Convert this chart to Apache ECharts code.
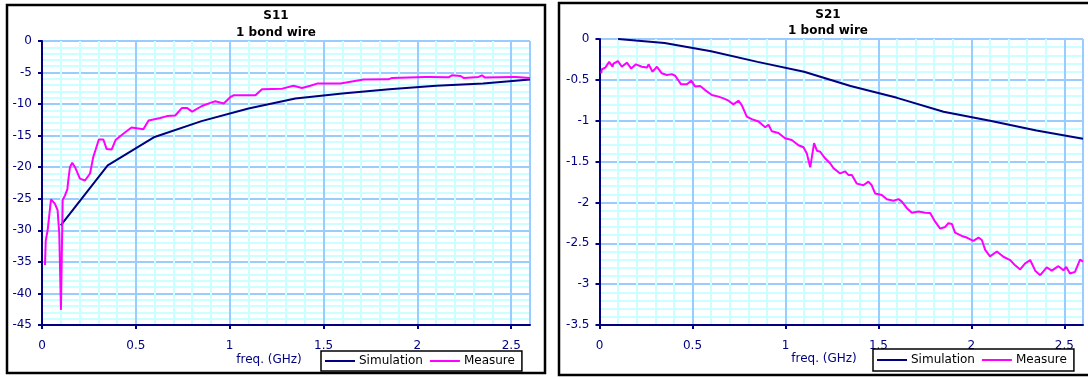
<!DOCTYPE html>
<html>
<head>
<meta charset="utf-8">
<script src="https://cdn.jsdelivr.net/npm/echarts@6/dist/echarts.min.js"></script>
<style>
  html, body { margin: 0; padding: 0; background: #fff; }
  #c { width: 1088px; height: 378px; }
</style>
</head>
<body>
<div id="c"></div>
<script>
// ---- S11 (return loss of one bond wire) ----
const s11SimFreq = [0.1, 0.35, 0.6, 0.85, 1.1, 1.35, 1.6, 1.85, 2.1, 2.35, 2.6];
const s11SimDb   = [-29.2, -19.7, -15.2, -12.7, -10.7, -9.1, -8.3, -7.65, -7.1, -6.75, -6.1];

const s11MeasFreq = [0.016, 0.02, 0.03, 0.048, 0.069, 0.083, 0.092, 0.101, 0.11, 0.122, 0.135, 0.14,
  0.149, 0.161, 0.176, 0.202, 0.229, 0.256, 0.273, 0.286, 0.303, 0.327, 0.344, 0.371, 0.392, 0.433,
  0.477, 0.522, 0.54, 0.568, 0.63, 0.666, 0.71, 0.746, 0.772, 0.8, 0.852, 0.897, 0.923, 0.968, 1.003,
  1.02, 1.137, 1.172, 1.28, 1.34, 1.385, 1.43, 1.465, 1.59, 1.713, 1.846, 1.865, 2.04, 2.05, 2.06,
  2.166, 2.184, 2.23, 2.246, 2.326, 2.344, 2.36, 2.504, 2.51, 2.525, 2.6];
const s11MeasDb = [-35.5, -31.6, -30, -25.1, -25.8, -26.8, -30.5, -42.6, -25.2, -24.5, -23.5, -22.1,
  -20, -19.3, -20, -21.8, -22.1, -21, -18.4, -17.2, -15.6, -15.6, -17.1, -17.2, -15.7, -14.7,
  -13.7, -13.9, -14.0, -12.6, -12.2, -11.9, -11.8, -10.6, -10.6, -11.2, -10.3, -9.8, -9.55, -9.9, -8.9,
  -8.6, -8.6, -7.65, -7.55, -7.1, -7.45, -7.1, -6.75, -6.75, -6.1, -6.07, -5.85, -5.7, -5.43, -5.7,
  -5.75, -5.43, -5.55, -5.85, -5.7, -5.43, -5.8, -5.7, -5.43, -5.7, -5.85];

// ---- S21 (insertion loss of one bond wire) ----
const s21SimFreq = [0.1, 0.35, 0.6, 0.85, 1.1, 1.35, 1.6, 1.85, 2.1, 2.35, 2.6];
const s21SimDb   = [0, -0.05, -0.15, -0.28, -0.4, -0.575, -0.72, -0.89, -1.0, -1.12, -1.22];

const s21MeasFreq = [0.009, 0.013, 0.031, 0.052, 0.07, 0.075, 0.099, 0.12, 0.147, 0.17, 0.196, 0.228,
  0.255, 0.264, 0.285, 0.309, 0.335, 0.362, 0.389, 0.407, 0.439, 0.47, 0.493, 0.514, 0.541, 0.568,
  0.604, 0.64, 0.667, 0.694, 0.72, 0.747, 0.765, 0.792, 0.819, 0.855, 0.891, 0.909, 0.927, 0.962,
  0.998, 1.034, 1.07, 1.097, 1.115, 1.133, 1.14, 1.154, 1.169, 1.187, 1.213, 1.24, 1.258, 1.294,
  1.321, 1.339, 1.357, 1.384, 1.419, 1.446, 1.464, 1.482, 1.518, 1.545, 1.581, 1.608, 1.626, 1.653,
  1.68, 1.715, 1.751, 1.778, 1.805, 1.832, 1.859, 1.876, 1.895, 1.912, 1.948, 1.975, 2.01, 2.038,
  2.056, 2.074, 2.1, 2.137, 2.172, 2.208, 2.235, 2.262, 2.289, 2.316, 2.343, 2.37, 2.405, 2.432,
  2.468, 2.495, 2.51, 2.53, 2.557, 2.584, 2.6];
const s21MeasDb = [-0.42, -0.37, -0.35, -0.28, -0.34, -0.30, -0.27, -0.34, -0.29, -0.36, -0.31, -0.34,
  -0.35, -0.31, -0.40, -0.34, -0.42, -0.44, -0.43, -0.45, -0.555, -0.555, -0.51, -0.58, -0.575, -0.625,
  -0.685, -0.705, -0.726, -0.755, -0.80, -0.755, -0.81, -0.95, -0.98, -1.01, -1.08, -1.05, -1.13, -1.15,
  -1.215, -1.236, -1.30, -1.325, -1.40, -1.57, -1.56, -1.275, -1.367, -1.38, -1.46, -1.52, -1.58, -1.645,
  -1.62, -1.665, -1.665, -1.77, -1.79, -1.745, -1.79, -1.89, -1.91, -1.96, -1.98, -1.96, -1.99, -2.07,
  -2.125, -2.11, -2.125, -2.13, -2.235, -2.32, -2.30, -2.255, -2.265, -2.37, -2.41, -2.43, -2.47, -2.43,
  -2.46, -2.58, -2.66, -2.60, -2.665, -2.705, -2.77, -2.82, -2.745, -2.705, -2.835, -2.89, -2.795, -2.835,
  -2.78, -2.83, -2.79, -2.87, -2.85, -2.70, -2.725];

// ---- tick labels ----
const freqTicks = [0, 0.5, 1, 1.5, 2, 2.5];
const s11Ticks  = [-45, -40, -35, -30, -25, -20, -15, -10, -5, 0];
const s21Ticks  = [-3.5, -3, -2.5, -2, -1.5, -1, -0.5, 0];

const seriesNames = ['Simulation', 'Measure'];

// ---- styling ----
const FONT = '"DejaVu Sans", Verdana, sans-serif';
const NAVY = '#000080';
const PINK = '#ff00ff';
const MAJOR = '#99ccff';
const MINOR = '#ccffff';

const zip = (f, v) => f.map((x, i) => [x, v[i]]);

// one color per grid line: every fifth line is a major one, the far edge too
function lineColors(count) {
  const out = [];
  for (let i = 0; i < count; i++) out.push(i % 5 === 0 || i === count - 1 ? MAJOR : MINOR);
  return out;
}

const hidden = { show: false };

// grid-line axis: only draws the fine 0.1 GHz mesh
function xMesh(gridIndex) {
  return {
    type: 'value', gridIndex, position: 'top', min: 0, max: 2.6, interval: 0.1,
    axisLine: hidden, axisTick: hidden, axisLabel: hidden,
    splitLine: { show: true, lineStyle: { color: lineColors(27), width: 2 } }
  };
}
// scale axis: navy line, major ticks and labels
function xScale(gridIndex) {
  return {
    type: 'value', gridIndex, position: 'bottom', min: 0, max: 2.6, interval: 0.5,
    axisLine: { show: true, onZero: false, lineStyle: { color: NAVY, width: 2 } },
    axisTick: { show: true, length: 4, customValues: freqTicks, lineStyle: { color: NAVY, width: 2 } },
    axisLabel: { customValues: freqTicks, color: NAVY, fontFamily: FONT, fontSize: 12, margin: 15,
      formatter: v => String(v) },
    splitLine: hidden
  };
}
function yMesh(gridIndex, min, step) {
  const count = Math.round(-min / step) + 1;
  return {
    type: 'value', gridIndex, position: 'right', min, max: 0, interval: step,
    axisLine: hidden, axisTick: hidden, axisLabel: hidden,
    splitLine: { show: true, lineStyle: { color: lineColors(count), width: 2 } }
  };
}
function yScale(gridIndex, min, step, ticks) {
  return {
    type: 'value', gridIndex, position: 'left', min, max: 0, interval: step,
    axisLine: { show: true, onZero: false, lineStyle: { color: NAVY, width: 2 } },
    axisTick: { show: true, length: 4, customValues: ticks, lineStyle: { color: NAVY, width: 2 } },
    axisLabel: { customValues: ticks, color: NAVY, fontFamily: FONT, fontSize: 12, margin: 10,
      formatter: v => String(v) },
    splitLine: hidden
  };
}

// series are bound to the scale axes (indices 1 and 3)
function lineSeries(name, axisIdx, data, color) {
  return {
    name, type: 'line', xAxisIndex: axisIdx, yAxisIndex: axisIdx, data,
    showSymbol: false, symbol: 'none', smooth: false, animation: false,
    color, lineStyle: { color, width: 2 }
  };
}

function legend(left, top, pad) {
  return {
    data: seriesNames, left, top, orient: 'horizontal',
    icon: 'rect', itemWidth: 30, itemHeight: 2, itemGap: 7,
    padding: pad, backgroundColor: '#fff', borderColor: '#000', borderWidth: 1.5, borderRadius: 0,
    textStyle: { color: '#000', fontFamily: FONT, fontSize: 12, padding: [0, 0, 0, -1] },
    selectedMode: false
  };
}

function text(x, y, str, bold, color) {
  return {
    type: 'text', x, y, z: 50,
    style: { text: str, font: (bold ? 'bold ' : '') + '12px ' + FONT, fill: color,
      textAlign: 'center', align: 'center', textVerticalAlign: 'middle', verticalAlign: 'middle' }
  };
}

const chart = echarts.init(document.getElementById('c'), null, { renderer: 'canvas' });
chart.setOption({
  animation: false,
  backgroundColor: '#fff',
  grid: [
    { left: 42, top: 41, right: 558, bottom: 53, show: true, borderColor: MAJOR, borderWidth: 1, containLabel: false },
    { left: 599.5, top: 39, right: 5, bottom: 53, show: true, borderColor: MAJOR, borderWidth: 1, containLabel: false }
  ],
  xAxis: [xMesh(0), xScale(0), xMesh(1), xScale(1)],
  yAxis: [yMesh(0, -45, 1), yScale(0, -45, 5, s11Ticks), yMesh(1, -3.5, 0.1), yScale(1, -3.5, 0.5, s21Ticks)],
  legend: [legend(321, 351, [4, 7, 4, 4]), legend(873, 349, [5, 7, 5, 4])],
  series: [
    lineSeries('Simulation', 1, zip(s11SimFreq, s11SimDb), NAVY),
    lineSeries('Measure', 1, zip(s11MeasFreq, s11MeasDb), PINK),
    lineSeries('Simulation', 3, zip(s21SimFreq, s21SimDb), NAVY),
    lineSeries('Measure', 3, zip(s21MeasFreq, s21MeasDb), PINK)
  ],
  graphic: [
    { type: 'rect', z: 60, silent: true, shape: { x: 7, y: 5, width: 538, height: 368 },
      style: { fill: null, stroke: '#000', lineWidth: 2.5 } },
    { type: 'rect', z: 60, silent: true, shape: { x: 559, y: 3, width: 545, height: 372 },
      style: { fill: null, stroke: '#000', lineWidth: 2.5 } },
    text(276, 16, 'S11', true, '#000'),
    text(276, 33, '1 bond wire', true, '#000'),
    text(828, 15, 'S21', true, '#000'),
    text(828, 31, '1 bond wire', true, '#000'),
    text(269, 360, 'freq. (GHz)', false, NAVY),
    text(824, 359, 'freq. (GHz)', false, NAVY)
  ]
});
</script>
</body>
</html>
